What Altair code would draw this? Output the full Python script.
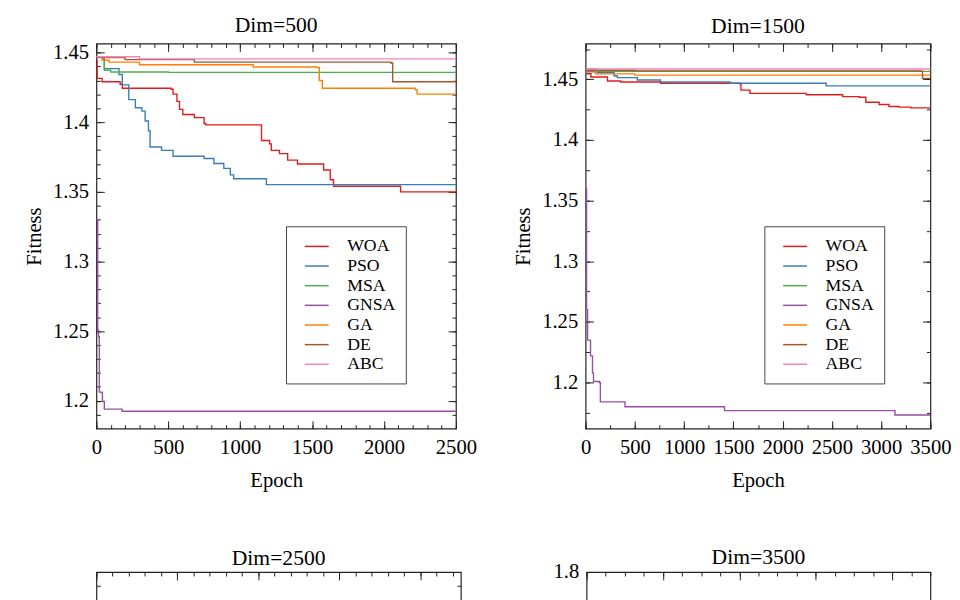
import altair as alt
import pandas as pd

FONT = "Liberation Serif"
ALGOS = ["WOA", "PSO", "MSA", "GNSA", "GA", "DE", "ABC"]
COLORS = ["#e41a1c", "#377eb8", "#4daf4a", "#984ea3", "#ff7f00", "#a65628", "#f781bf"]

# ---------------- Dim=500 ----------------
d500_woa_ep = [0, 5, 40, 165, 180, 520, 533, 560, 578, 601, 681, 749, 760, 1148, 1204, 1216, 1273, 1330, 1398, 1580, 1626, 1649, 2115, 2500]
d500_woa_fit = [1.4444, 1.4315, 1.4291, 1.4273, 1.4244, 1.4237, 1.4202, 1.4150, 1.4092, 1.4056, 1.4033, 1.3991, 1.3981, 1.3869, 1.3845, 1.3798, 1.3775, 1.3728, 1.3700, 1.3657, 1.3587, 1.3540, 1.3500, 1.3500]
d500_pso_ep = [0, 55, 157, 180, 225, 271, 316, 339, 362, 373, 453, 533, 749, 817, 886, 931, 954, 1182, 2500]
d500_pso_fit = [1.4470, 1.4385, 1.4343, 1.4268, 1.4162, 1.4104, 1.4080, 1.4009, 1.3939, 1.3822, 1.3798, 1.3756, 1.3740, 1.3704, 1.3669, 1.3622, 1.3594, 1.3552, 1.3548]
d500_msa_ep = [0, 50, 55, 100, 500, 2500]
d500_msa_fit = [1.4470, 1.4445, 1.4373, 1.4361, 1.4358, 1.4357]
d500_gnsa_ep = [0, 9, 15, 20, 39, 42, 55, 178, 2500]
d500_gnsa_fit = [1.3300, 1.2508, 1.2460, 1.2062, 1.2055, 1.1996, 1.1940, 1.1925, 1.1925]
d500_ga_ep = [0, 40, 89, 300, 1091, 1535, 1550, 1571, 2218, 2230, 2500]
d500_ga_fit = [1.4470, 1.4445, 1.4432, 1.4413, 1.4397, 1.4392, 1.4300, 1.4244, 1.4233, 1.4202, 1.4202]
d500_de_ep = [0, 200, 681, 2047, 2060, 2500]
d500_de_fit = [1.4465, 1.4450, 1.4432, 1.4425, 1.4291, 1.4288]
d500_abc_ep = [0, 300, 2500]
d500_abc_fit = [1.4470, 1.4455, 1.4449]

# ---------------- Dim=1500 ----------------
d1500_woa_ep = [0, 54, 222, 356, 760, 1567, 1577, 1668, 2240, 2610, 2778, 2845, 2980, 3080, 3181, 3300, 3500]
d1500_woa_fit = [1.4546, 1.4519, 1.4486, 1.4478, 1.4468, 1.4460, 1.4411, 1.4384, 1.4373, 1.4357, 1.4352, 1.4311, 1.4292, 1.4276, 1.4271, 1.4265, 1.4265]
d1500_pso_ep = [0, 121, 290, 323, 525, 760, 1466, 2442, 3500]
d1500_pso_fit = [1.4562, 1.4554, 1.4527, 1.4514, 1.4494, 1.4478, 1.4468, 1.4446, 1.4441]
d1500_msa_ep = [0, 100, 3500]
d1500_msa_fit = [1.4585, 1.4566, 1.4563]
d1500_gnsa_ep = [0, 10, 20, 50, 70, 80, 140, 150, 390, 400, 1400, 1410, 3131, 3140, 3500]
d1500_gnsa_fit = [1.3600, 1.2600, 1.2350, 1.2220, 1.2080, 1.2008, 1.2000, 1.1840, 1.1840, 1.1800, 1.1800, 1.1768, 1.1768, 1.1732, 1.1732]
d1500_ga_ep = [0, 100, 500, 3500]
d1500_ga_fit = [1.4570, 1.4545, 1.4535, 1.4532]
d1500_de_ep = [0, 500, 3400, 3420, 3500]
d1500_de_fit = [1.4575, 1.4570, 1.4567, 1.4508, 1.4508]
d1500_abc_ep = [0, 3500]
d1500_abc_fit = [1.4585, 1.4578]

SERIES_500 = {
    "WOA": (d500_woa_ep, d500_woa_fit), "PSO": (d500_pso_ep, d500_pso_fit),
    "MSA": (d500_msa_ep, d500_msa_fit), "GNSA": (d500_gnsa_ep, d500_gnsa_fit),
    "GA": (d500_ga_ep, d500_ga_fit), "DE": (d500_de_ep, d500_de_fit),
    "ABC": (d500_abc_ep, d500_abc_fit),
}
SERIES_1500 = {
    "WOA": (d1500_woa_ep, d1500_woa_fit), "PSO": (d1500_pso_ep, d1500_pso_fit),
    "MSA": (d1500_msa_ep, d1500_msa_fit), "GNSA": (d1500_gnsa_ep, d1500_gnsa_fit),
    "GA": (d1500_ga_ep, d1500_ga_fit), "DE": (d1500_de_ep, d1500_de_fit),
    "ABC": (d1500_abc_ep, d1500_abc_fit),
}

TICK_COLOR = "#222"


def frange(a, b, step):
    out = []
    n = int(round((b - a) / step))
    for i in range(n + 1):
        out.append(round(a + i * step, 6))
    return out


def make_panel(title, series, xmax, xmajor, xminor, ydom, ymajor, yminor, w, h,
               legend_xy=None, ylabel_values=None, title_offset=5):
    rows = []
    if series:
        for a, (eps, fits) in series.items():
            for e, f in zip(eps, fits):
                rows.append({"algo": a, "epoch": e, "fitness": f})
    df = pd.DataFrame(rows, columns=["algo", "epoch", "fitness"])
    xs = alt.Scale(domain=[0, xmax], nice=False, zero=False)
    ys = alt.Scale(domain=ydom, nice=False, zero=False)
    base = alt.Chart(df)

    enc = dict(
        x=alt.X("epoch:Q", scale=xs, axis=alt.Axis(
            values=xmajor, title="Epoch", ticks=False, domain=False, grid=False,
            labelFont=FONT, titleFont=FONT, labelFontSize=21, titleFontSize=21,
            titleFontWeight="normal", labelColor="black", titleColor="black",
            labelPadding=8, titlePadding=13, labelOverlap=False, labelFlush=False, format="d")),
        y=alt.Y("fitness:Q", scale=ys, axis=alt.Axis(
            values=(ylabel_values if ylabel_values is not None else ymajor),
            title="Fitness", ticks=False, domain=False, grid=False,
            labelFont=FONT, titleFont=FONT, labelFontSize=21, titleFontSize=21,
            titleFontWeight="normal", labelColor="black", titleColor="black",
            labelPadding=8, titlePadding=8, minExtent=45, maxExtent=45,
            labelOverlap=False, labelFlush=False, format="~g")),
    )
    if series:
        enc["color"] = alt.Color("algo:N", scale=alt.Scale(domain=ALGOS, range=COLORS),
                                 legend=alt.Legend(
                                     title=None, orient="none",
                                     legendX=legend_xy[0], legendY=legend_xy[1],
                                     strokeColor="#444", fillColor="white", padding=10,
                                     symbolType="M-1.3,0H1.3", symbolSize=350,
                                     symbolStrokeWidth=1.5, symbolFillColor="transparent",
                                     symbolOffset=10.8,
                                     labelFont=FONT, labelFontSize=18, labelColor="black",
                                     labelOffset=20.5, rowPadding=0))
    lines = base.mark_line(interpolate="step-after", strokeWidth=1.4, clip=True).encode(**enc)

    def tick_layer(xvals, yvals, size, inner_bl):
        if inner_bl:
            xa = alt.Axis(orient="top", offset=-h, values=xvals, tickSize=size, labels=False,
                          title=None, domain=False, grid=False, tickColor=TICK_COLOR)
            ya = alt.Axis(orient="right", offset=-w, values=yvals, tickSize=size, labels=False,
                          title=None, domain=False, grid=False, tickColor=TICK_COLOR, minExtent=0)
        else:
            xa = alt.Axis(orient="bottom", offset=-h, values=xvals, tickSize=size, labels=False,
                          title=None, domain=False, grid=False, tickColor=TICK_COLOR)
            ya = alt.Axis(orient="left", offset=-w, values=yvals, tickSize=size, labels=False,
                          title=None, domain=False, grid=False, tickColor=TICK_COLOR, minExtent=0)
        return base.mark_point(opacity=0, clip=True).encode(
            x=alt.X("epoch:Q", scale=xs, axis=xa),
            y=alt.Y("fitness:Q", scale=ys, axis=ya))

    layers = [lines,
              tick_layer(xmajor, ymajor, 8, True), tick_layer(xminor, yminor, 4, True),
              tick_layer(xmajor, ymajor, 8, False), tick_layer(xminor, yminor, 4, False)]
    return alt.layer(*layers).resolve_axis(x="independent", y="independent").properties(
        width=w, height=h,
        title=alt.TitleParams(title, font=FONT, fontSize=22, fontWeight="normal",
                              anchor="middle", frame="group", offset=title_offset, color="black"))


p1 = make_panel("Dim=500", SERIES_500, 2500, frange(0, 2500, 500), frange(0, 2500, 100),
                [1.18, 1.4565], frange(1.2, 1.45, 0.05), frange(1.19, 1.45, 0.01),
                366, 392, legend_xy=(193, 186))
p2 = make_panel("Dim=1500", SERIES_1500, 3500, frange(0, 3500, 500), frange(0, 3500, 250),
                [1.162, 1.4795], frange(1.2, 1.45, 0.05), frange(1.175, 1.475, 0.025),
                351, 392, legend_xy=(182, 186))
p3 = make_panel("Dim=2500", None, 4500, frange(0, 4000, 1000), frange(0, 4400, 200),
                [1.15, 1.617], frange(1.2, 1.5, 0.1), frange(1.15, 1.6, 0.05),
                371, 392, ylabel_values=[], title_offset=2)
p4 = make_panel("Dim=3500", None, 4500, frange(0, 4000, 1000), frange(0, 4500, 250),
                [1.1, 1.8], frange(1.2, 1.8, 0.2), frange(1.1, 1.8, 0.1),
                350, 392, title_offset=-8)

row1 = alt.hconcat(p1, p2, spacing=35).resolve_scale(color="independent")
row2 = alt.hconcat(p3, p4, spacing=51).resolve_scale(color="independent")

chart = alt.vconcat(row1, row2, spacing=55, padding={"left": 15, "top": -4, "right": 0, "bottom": 0}).resolve_scale(
    color="independent"
).configure_view(stroke="#222", strokeWidth=1.2).configure_axis(
    labelFont=FONT, titleFont=FONT, labelFontSize=21, titleFontSize=21,
    titleFontWeight="normal", labelColor="black", titleColor="black"
)

chart.save("out.html", embed_options={"renderer": "svg", "actions": False})
